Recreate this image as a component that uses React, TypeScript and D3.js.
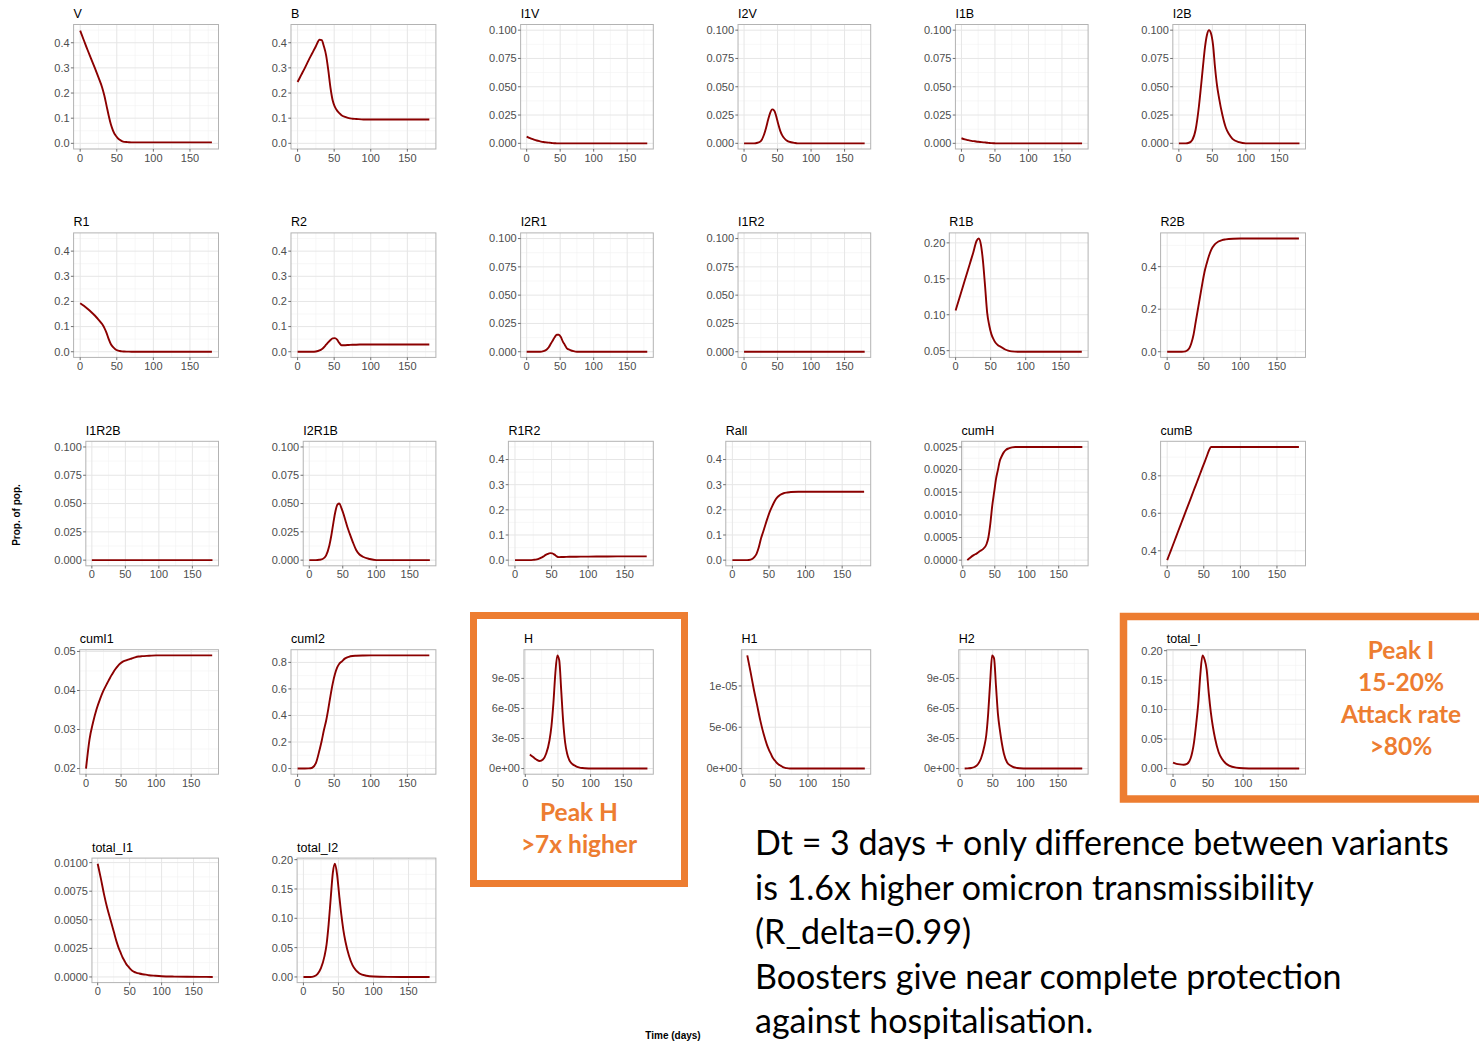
import React, { useEffect } from 'react';
import * as d3 from 'd3';

const AXIS_FONT = '"Liberation Sans", Arial, sans-serif';
const NOTE_FONT = 'Lato, "Open Sans", sans-serif';
const LINE_COLOR = '#8b0000';
const ORANGE = '#ed7d31';

// time axis (days) used by most panels, and the lagged one for hospital panels
const days = [0, 5, 10, 15, 20, 25, 30, 33, 36, 39, 42, 45, 48, 51, 54, 57, 60, 65, 70, 75, 80, 90, 100, 120, 140, 160, 180];
const hDays = [7, 12, 17, 22, 27, 32, 37, 40, 43, 46, 49, 52, 55, 58, 61, 64, 67, 72, 77, 82, 87, 97, 107, 127, 147, 167, 187];

const xTicks = [0, 50, 100, 150];
const xMinor = [25, 75, 125, 175];

// series values (proportion of population)
const V = [0.448, 0.41, 0.372, 0.336, 0.30, 0.262, 0.222, 0.19, 0.15, 0.11, 0.075, 0.05, 0.033, 0.022, 0.014, 0.009, 0.006, 0.005, 0.004, 0.004, 0.004, 0.004, 0.004, 0.004, 0.004, 0.004, 0.004];
const B = [0.244, 0.272, 0.30, 0.33, 0.358, 0.386, 0.412, 0.41, 0.385, 0.35, 0.29, 0.22, 0.17, 0.145, 0.13, 0.12, 0.112, 0.105, 0.10, 0.098, 0.097, 0.095, 0.095, 0.095, 0.095, 0.095, 0.095];
const I1V = [0.006, 0.0046, 0.0035, 0.0025, 0.0018, 0.0012, 0.0008, 0.0006, 0.0004, 0.0002, 0.0001, 0, 0, 0, 0, 0, 0, 0, 0, 0, 0, 0, 0, 0, 0, 0, 0];
const I2V = [0, 0, 0, 0, 0.0005, 0.002, 0.008, 0.014, 0.021, 0.027, 0.030, 0.029, 0.024, 0.017, 0.011, 0.007, 0.0045, 0.002, 0.001, 0.0004, 0, 0, 0, 0, 0, 0, 0];
const I1B = [0.0045, 0.0035, 0.0028, 0.0022, 0.0018, 0.0014, 0.0011, 0.0009, 0.0007, 0.0005, 0.0003, 0.0002, 0.0001, 0, 0, 0, 0, 0, 0, 0, 0, 0, 0, 0, 0, 0, 0];
const I2B = [0, 0, 0, 0.0005, 0.003, 0.012, 0.033, 0.05, 0.068, 0.085, 0.096, 0.1, 0.097, 0.087, 0.067, 0.051, 0.04, 0.025, 0.014, 0.008, 0.004, 0.001, 0, 0, 0, 0, 0];

const R1 = [0.193, 0.183, 0.171, 0.158, 0.144, 0.128, 0.11, 0.095, 0.075, 0.05, 0.03, 0.018, 0.01, 0.005, 0.003, 0.0015, 0.001, 0.0005, 0, 0, 0, 0, 0, 0, 0, 0, 0];
const R2 = [0, 0, 0, 0, 0, 0.001, 0.005, 0.01, 0.018, 0.028, 0.038, 0.047, 0.053, 0.054, 0.048, 0.035, 0.026, 0.026, 0.027, 0.028, 0.028, 0.029, 0.029, 0.029, 0.029, 0.029, 0.029];
const I2R1 = [0, 0, 0, 0, 0, 0.0005, 0.002, 0.004, 0.007, 0.010, 0.013, 0.015, 0.015, 0.013, 0.009, 0.006, 0.003, 0.0015, 0.0005, 0, 0, 0, 0, 0, 0, 0, 0];
const I1R2 = [0, 0, 0, 0, 0, 0, 0, 0, 0, 0, 0, 0, 0, 0, 0, 0, 0, 0, 0, 0, 0, 0, 0, 0, 0, 0, 0];
const R1B = [0.106, 0.122, 0.138, 0.154, 0.17, 0.186, 0.203, 0.206, 0.198, 0.175, 0.14, 0.103, 0.085, 0.073, 0.066, 0.061, 0.058, 0.055, 0.052, 0.05, 0.049, 0.0485, 0.0485, 0.0485, 0.0485, 0.0485, 0.0485];
const R2B = [0, 0, 0, 0, 0, 0.002, 0.015, 0.04, 0.08, 0.14, 0.2, 0.26, 0.32, 0.375, 0.415, 0.45, 0.478, 0.505, 0.518, 0.525, 0.528, 0.531, 0.532, 0.532, 0.532, 0.532, 0.532];

const I1R2B = [0, 0, 0, 0, 0, 0, 0, 0, 0, 0, 0, 0, 0, 0, 0, 0, 0, 0, 0, 0, 0, 0, 0, 0, 0, 0, 0];
const I2R1B = [0, 0, 0, 0.0003, 0.001, 0.004, 0.013, 0.022, 0.033, 0.043, 0.049, 0.05, 0.046, 0.041, 0.035, 0.029, 0.024, 0.016, 0.009, 0.005, 0.003, 0.001, 0, 0, 0, 0, 0];
const R1R2 = [0, 0, 0, 0, 0, 0.001, 0.003, 0.006, 0.01, 0.015, 0.021, 0.025, 0.028, 0.027, 0.022, 0.015, 0.012, 0.0125, 0.013, 0.0133, 0.0135, 0.014, 0.014, 0.0145, 0.015, 0.015, 0.015];
const Rall = [0, 0, 0, 0, 0, 0.002, 0.012, 0.025, 0.05, 0.085, 0.112, 0.14, 0.167, 0.192, 0.212, 0.23, 0.245, 0.259, 0.266, 0.269, 0.271, 0.272, 0.272, 0.272, 0.272, 0.272, 0.272];
const cumH = [0, 0.00006, 0.00011, 0.00015, 0.0002, 0.00025, 0.00035, 0.0005, 0.0008, 0.0012, 0.0015, 0.0018, 0.002, 0.0022, 0.0023, 0.00238, 0.00243, 0.00247, 0.00249, 0.0025, 0.0025, 0.0025, 0.0025, 0.0025, 0.0025, 0.0025, 0.0025];
const cumB = [0.35, 0.401, 0.452, 0.504, 0.555, 0.606, 0.657, 0.688, 0.719, 0.749, 0.78, 0.811, 0.842, 0.872, 0.903, 0.934, 0.954, 0.954, 0.954, 0.954, 0.954, 0.954, 0.954, 0.954, 0.954, 0.954, 0.954];

const cumI1 = [0.02, 0.0275, 0.0318, 0.0352, 0.0378, 0.040, 0.0418, 0.0428, 0.0438, 0.0447, 0.0455, 0.0462, 0.0468, 0.0472, 0.0475, 0.0477, 0.0479, 0.0482, 0.0485, 0.0487, 0.0488, 0.0489, 0.049, 0.049, 0.049, 0.049, 0.049];
const cumI2 = [0, 0, 0, 0.001, 0.006, 0.04, 0.14, 0.21, 0.29, 0.36, 0.45, 0.55, 0.64, 0.71, 0.76, 0.79, 0.805, 0.83, 0.842, 0.848, 0.85, 0.852, 0.853, 0.853, 0.853, 0.853, 0.853];
const H = [1.4e-5, 1.15e-5, 0.9e-5, 0.75e-5, 0.9e-5, 1.5e-5, 2.8e-5, 4.2e-5, 6.5e-5, 9.5e-5, 11.3e-5, 10.8e-5, 7.8e-5, 4.7e-5, 2.6e-5, 1.5e-5, 0.9e-5, 0.45e-5, 0.25e-5, 0.12e-5, 0.05e-5, 0.01e-5, 0, 0, 0, 0, 0];
const H1 = [1.37e-5, 1.17e-5, 0.96e-5, 0.77e-5, 0.58e-5, 0.42e-5, 0.29e-5, 0.23e-5, 0.18e-5, 0.13e-5, 0.1e-5, 0.07e-5, 0.05e-5, 0.035e-5, 0.02e-5, 0.01e-5, 0.005e-5, 0, 0, 0, 0, 0, 0, 0, 0, 0, 0];
const H2 = [0, 0.02e-5, 0.05e-5, 0.15e-5, 0.4e-5, 1.0e-5, 2.2e-5, 3.3e-5, 5.5e-5, 8.6e-5, 11.3e-5, 11.0e-5, 8.2e-5, 5.4e-5, 3.8e-5, 2.5e-5, 1.5e-5, 0.6e-5, 0.3e-5, 0.13e-5, 0.06e-5, 0.01e-5, 0, 0, 0, 0, 0];
const totalI = [0.01, 0.008, 0.007, 0.0065, 0.008, 0.017, 0.045, 0.075, 0.11, 0.16, 0.192, 0.185, 0.168, 0.128, 0.095, 0.07, 0.051, 0.028, 0.016, 0.009, 0.005, 0.0015, 0.0005, 0.0001, 0, 0, 0];

const totalI1 = [0.0099, 0.0086, 0.0072, 0.006, 0.005, 0.004, 0.003, 0.0025, 0.0021, 0.0017, 0.0014, 0.0011, 0.0009, 0.0007, 0.00055, 0.00045, 0.00038, 0.0003, 0.00024, 0.0002, 0.00015, 0.0001, 0.00006, 0.00003, 0.00002, 0.00001, 0];
const totalI2 = [0, 0, 0, 0.001, 0.005, 0.015, 0.035, 0.055, 0.09, 0.135, 0.178, 0.193, 0.175, 0.14, 0.107, 0.08, 0.06, 0.036, 0.02, 0.011, 0.006, 0.002, 0.0007, 0.0001, 0, 0, 0];

// y tick values and labels per scale type
const propTicks = [0, 0.1, 0.2, 0.3, 0.4];
const propLabels = ['0.0', '0.1', '0.2', '0.3', '0.4'];
const infTicks = [0, 0.025, 0.05, 0.075, 0.1];
const infLabels = ['0.000', '0.025', '0.050', '0.075', '0.100'];
const r1bTicks = [0.05, 0.1, 0.15, 0.2];
const r1bLabels = ['0.05', '0.10', '0.15', '0.20'];
const r2bTicks = [0, 0.2, 0.4];
const r2bLabels = ['0.0', '0.2', '0.4'];
const cumHTicks = [0, 0.0005, 0.001, 0.0015, 0.002, 0.0025];
const cumHLabels = ['0.0000', '0.0005', '0.0010', '0.0015', '0.0020', '0.0025'];
const cumBTicks = [0.4, 0.6, 0.8];
const cumBLabels = ['0.4', '0.6', '0.8'];
const cumI1Ticks = [0.02, 0.03, 0.04, 0.05];
const cumI1Labels = ['0.02', '0.03', '0.04', '0.05'];
const cumI2Ticks = [0, 0.2, 0.4, 0.6, 0.8];
const cumI2Labels = ['0.0', '0.2', '0.4', '0.6', '0.8'];
const hTicks = [0, 3e-5, 6e-5, 9e-5];
const hLabels = ['0e+00', '3e-05', '6e-05', '9e-05'];
const h1Ticks = [0, 5e-6, 1e-5];
const h1Labels = ['0e+00', '5e-06', '1e-05'];
const totTicks = [0, 0.05, 0.1, 0.15, 0.2];
const totLabels = ['0.00', '0.05', '0.10', '0.15', '0.20'];
const tot1Ticks = [0, 0.0025, 0.005, 0.0075, 0.01];
const tot1Labels = ['0.0000', '0.0025', '0.0050', '0.0075', '0.0100'];

const propLimits = [0, 0.45];
const infLimits = [0, 0.1];

const panels = [
  { title: 'V', col: 0, row: 0, x: days, y: V, limits: propLimits, ticks: propTicks, labels: propLabels },
  { title: 'B', col: 1, row: 0, x: days, y: B, limits: propLimits, ticks: propTicks, labels: propLabels },
  { title: 'I1V', col: 2, row: 0, x: days, y: I1V, limits: infLimits, ticks: infTicks, labels: infLabels },
  { title: 'I2V', col: 3, row: 0, x: days, y: I2V, limits: infLimits, ticks: infTicks, labels: infLabels },
  { title: 'I1B', col: 4, row: 0, x: days, y: I1B, limits: infLimits, ticks: infTicks, labels: infLabels },
  { title: 'I2B', col: 5, row: 0, x: days, y: I2B, limits: infLimits, ticks: infTicks, labels: infLabels },
  { title: 'R1', col: 0, row: 1, x: days, y: R1, limits: propLimits, ticks: propTicks, labels: propLabels },
  { title: 'R2', col: 1, row: 1, x: days, y: R2, limits: propLimits, ticks: propTicks, labels: propLabels },
  { title: 'I2R1', col: 2, row: 1, x: days, y: I2R1, limits: infLimits, ticks: infTicks, labels: infLabels },
  { title: 'I1R2', col: 3, row: 1, x: days, y: I1R2, limits: infLimits, ticks: infTicks, labels: infLabels },
  { title: 'R1B', col: 4, row: 1, x: days, y: R1B, limits: null, ticks: r1bTicks, labels: r1bLabels },
  { title: 'R2B', col: 5, row: 1, x: days, y: R2B, limits: null, ticks: r2bTicks, labels: r2bLabels },
  { title: 'I1R2B', col: 0, row: 2, x: days, y: I1R2B, limits: infLimits, ticks: infTicks, labels: infLabels },
  { title: 'I2R1B', col: 1, row: 2, x: days, y: I2R1B, limits: infLimits, ticks: infTicks, labels: infLabels },
  { title: 'R1R2', col: 2, row: 2, x: days, y: R1R2, limits: propLimits, ticks: propTicks, labels: propLabels },
  { title: 'Rall', col: 3, row: 2, x: days, y: Rall, limits: propLimits, ticks: propTicks, labels: propLabels },
  { title: 'cumH', col: 4, row: 2, x: hDays, y: cumH, limits: null, ticks: cumHTicks, labels: cumHLabels },
  { title: 'cumB', col: 5, row: 2, x: days, y: cumB, limits: null, ticks: cumBTicks, labels: cumBLabels },
  { title: 'cumI1', col: 0, row: 3, x: days, y: cumI1, limits: null, ticks: cumI1Ticks, labels: cumI1Labels },
  { title: 'cumI2', col: 1, row: 3, x: days, y: cumI2, limits: null, ticks: cumI2Ticks, labels: cumI2Labels },
  { title: 'H', col: 2, row: 3, x: hDays, y: H, limits: null, ticks: hTicks, labels: hLabels },
  { title: 'H1', col: 3, row: 3, x: hDays, y: H1, limits: null, ticks: h1Ticks, labels: h1Labels },
  { title: 'H2', col: 4, row: 3, x: hDays, y: H2, limits: null, ticks: hTicks, labels: hLabels },
  { title: 'total_I', col: 5, row: 3, x: days, y: totalI, limits: null, ticks: totTicks, labels: totLabels },
  { title: 'total_I1', col: 0, row: 4, x: days, y: totalI1, limits: null, ticks: tot1Ticks, labels: tot1Labels },
  { title: 'total_I2', col: 1, row: 4, x: days, y: totalI2, limits: null, ticks: totTicks, labels: totLabels },
];

const noteLines = [
  'Dt = 3 days + only difference between variants',
  'is 1.6x higher omicron transmissibility',
  '(R_delta=0.99)',
  'Boosters give near complete protection',
  'against hospitalisation.',
];
const peakHLines = ['Peak H', '>7x higher'];
const peakILines = ['Peak I', '15-20%', 'Attack rate', '>80%'];

let measureCtx = null;
const textWidth = (s, font) => {
  if (!measureCtx) measureCtx = document.createElement('canvas').getContext('2d');
  measureCtx.font = font;
  return measureCtx.measureText(s).width;
};

const COL_W = 217.4;
const ROW_H = 208.4;
const PLOT_H = 124.5;

const Panel = ({ p }) => {
  const labelLeft = 54.3 + p.col * COL_W;
  const right = 218.5 + p.col * COL_W;
  const top = 24.5 + p.row * ROW_H;
  const bottom = top + PLOT_H;
  const labelW = d3.max(p.labels, s => textWidth(s, `11px ${AXIS_FONT}`));
  const left = labelLeft + labelW + 4;

  const [x0, x1] = d3.extent(p.x);
  const xPad = (x1 - x0) * 0.05;
  const xScale = d3.scaleLinear().domain([x0 - xPad, x1 + xPad]).range([left, right]);
  const [y0, y1] = p.limits || d3.extent(p.y);
  const yPad = (y1 - y0) * 0.05;
  const yScale = d3.scaleLinear().domain([y0 - yPad, y1 + yPad]).range([bottom, top]);

  const step = p.ticks[1] - p.ticks[0];
  const [yd0, yd1] = yScale.domain();
  const yMinor = [p.ticks[0] - step / 2, ...p.ticks.map(t => t + step / 2)].filter(v => v > yd0 && v < yd1);
  const xd = xScale.domain();
  const xMin = xMinor.filter(v => v > xd[0] && v < xd[1]);

  const line = d3.line()
    .x((d, i) => xScale(p.x[i]))
    .y(d => yScale(d))
    .curve(d3.curveMonotoneX);

  return (
    <g>
      <text x={left} y={top - 6.5} fontSize={12.5} fontFamily={AXIS_FONT} fill="#000">{p.title}</text>
      {yMinor.map(v => (
        <line key={'ym' + v} x1={left} x2={right} y1={yScale(v)} y2={yScale(v)} stroke="#f2f2f2" strokeWidth={0.6} />
      ))}
      {xMin.map(v => (
        <line key={'xm' + v} x1={xScale(v)} x2={xScale(v)} y1={top} y2={bottom} stroke="#f2f2f2" strokeWidth={0.6} />
      ))}
      {p.ticks.map(v => (
        <line key={'yg' + v} x1={left} x2={right} y1={yScale(v)} y2={yScale(v)} stroke="#e6e6e6" strokeWidth={1} />
      ))}
      {xTicks.map(v => (
        <line key={'xg' + v} x1={xScale(v)} x2={xScale(v)} y1={top} y2={bottom} stroke="#e6e6e6" strokeWidth={1} />
      ))}
      <rect x={left} y={top} width={right - left} height={bottom - top} fill="none" stroke="#b3b3b3" strokeWidth={1} />
      <path d={line(p.y)} fill="none" stroke={LINE_COLOR} strokeWidth={1.9} strokeLinejoin="round" />
      {p.ticks.map((v, i) => (
        <g key={'yt' + v}>
          <line x1={left - 2.7} x2={left} y1={yScale(v)} y2={yScale(v)} stroke="#4d4d4d" strokeWidth={0.8} />
          <text x={left - 4} y={yScale(v) + 3.9} textAnchor="end" fontSize={11} fontFamily={AXIS_FONT} fill="#4d4d4d">{p.labels[i]}</text>
        </g>
      ))}
      {xTicks.map(v => (
        <g key={'xt' + v}>
          <line x1={xScale(v)} x2={xScale(v)} y1={bottom} y2={bottom + 2.7} stroke="#4d4d4d" strokeWidth={0.8} />
          <text x={xScale(v)} y={bottom + 12.5} textAnchor="middle" fontSize={11} fontFamily={AXIS_FONT} fill="#4d4d4d">{v}</text>
        </g>
      ))}
    </g>
  );
};

export default function App() {
  useEffect(() => {
    document.body.style.margin = '0';
  }, []);

  return (
    <svg width={1479} height={1043} style={{ position: 'absolute', left: 0, top: 0, background: '#fff' }}>
      <rect x={0} y={0} width={1479} height={1043} fill="#fff" />
      {panels.map(p => <Panel key={p.title} p={p} />)}

      <text transform="translate(20,515) rotate(-90)" textAnchor="middle" fontSize={10} fontWeight="bold" fontFamily={AXIS_FONT} fill="#000">Prop. of pop.</text>
      <text x={673} y={1039} textAnchor="middle" fontSize={10} fontWeight="bold" fontFamily={AXIS_FONT} fill="#000">Time (days)</text>

      <rect x={473.5} y={615.5} width={211} height={268} fill="none" stroke={ORANGE} strokeWidth={7} />
      {peakHLines.map((s, i) => (
        <text key={s} x={579} y={821 + i * 32} textAnchor="middle" fontSize={24.5} fontWeight="bold" fontFamily={NOTE_FONT} fill={ORANGE}>{s}</text>
      ))}

      <rect x={1123.5} y={616.5} width={380} height={182.5} fill="none" stroke={ORANGE} strokeWidth={7.5} />
      {peakILines.map((s, i) => (
        <text key={s} x={1401} y={659 + i * 32} textAnchor="middle" fontSize={24.5} fontWeight="bold" fontFamily={NOTE_FONT} fill={ORANGE}>{s}</text>
      ))}

      {noteLines.map((s, i) => (
        <text key={s} x={755} y={855 + i * 44.5} fontSize={34} fontFamily={NOTE_FONT} fill="#000">{s}</text>
      ))}
    </svg>
  );
}
